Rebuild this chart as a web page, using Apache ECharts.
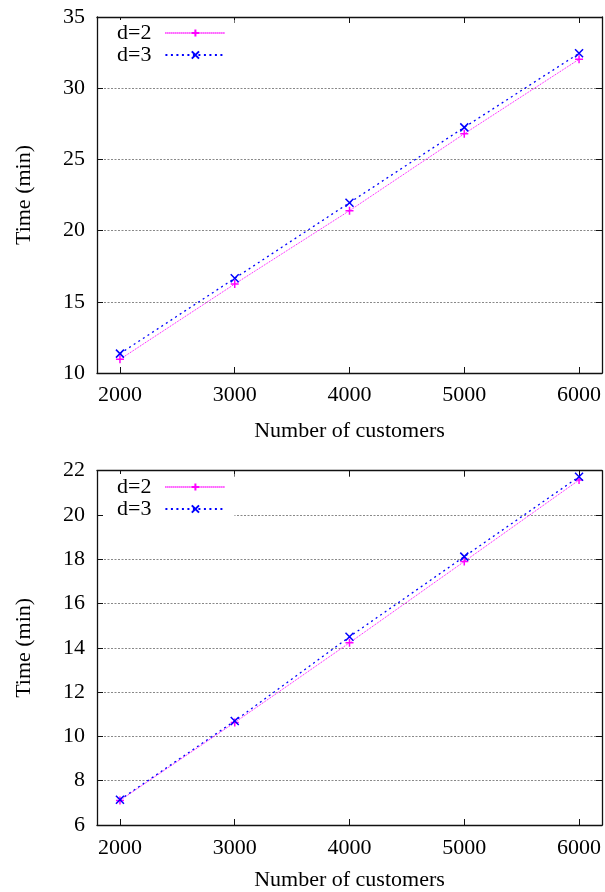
<!DOCTYPE html>
<html>
<head>
<meta charset="utf-8">
<script src="https://cdn.jsdelivr.net/npm/echarts@6/dist/echarts.min.js"></script>
<style>html,body{margin:0;padding:0;background:#fff;}#c{width:605px;height:892px;}</style>
</head>
<body>
<div id="c"></div>
<script>
// ---- data ----
const customers = [2000, 3000, 4000, 5000, 6000];
const xTicks = [2000, 3000, 4000, 5000, 6000];
const topD2 = [10.96, 16.25, 21.40, 26.80, 32.03];
const topD3 = [11.36, 16.65, 21.96, 27.25, 32.45];
const botD2 = [7.11, 10.63, 14.23, 17.90, 21.58];
const botD3 = [7.14, 10.70, 14.50, 18.12, 21.73];
const seriesNames = ['d=2', 'd=3'];
const xTitle = 'Number of customers';
const yTitle = 'Time (min)';

// ---- styling ----
const FONT = 'Liberation Serif';
const FS = 22;
const AXIS_COLOR = '#111';
const plusPath = 'path://M0,4L8,4M4,0L4,8';
const crossPath = 'path://M0,0L8,8M8,0L0,8';

function pairs(xs, ys) { return xs.map((x, i) => [x, ys[i]]); }

function xAxes(gridIndex, labelMargin, nameGap) {
  return [
    {
      type: 'value', gridIndex, position: 'bottom', min: 1800, max: 6200,
      axisLine: { show: true, onZero: false, lineStyle: { color: AXIS_COLOR, width: 1.3 } },
      axisTick: { show: true, inside: true, length: 6, customValues: xTicks, lineStyle: { color: AXIS_COLOR } },
      axisLabel: { show: true, customValues: xTicks, margin: labelMargin, fontFamily: FONT, fontSize: FS, color: '#000',
                   formatter: v => String(v) },
      splitLine: { show: false },
      name: xTitle, nameLocation: 'middle', nameGap: nameGap,
      nameTextStyle: { fontFamily: FONT, fontSize: FS, color: '#000' }
    },
    {
      type: 'value', gridIndex, position: 'top', min: 1800, max: 6200,
      axisLine: { show: true, onZero: false, lineStyle: { color: AXIS_COLOR, width: 1.3 } },
      axisTick: { show: true, inside: true, length: 6, customValues: xTicks, lineStyle: { color: AXIS_COLOR } },
      axisLabel: { show: false },
      splitLine: { show: false }
    }
  ];
}

function yAxes(gridIndex, min, max, interval, nameGap) {
  return [
    {
      type: 'value', gridIndex, position: 'left', min, max, interval,
      axisLine: { show: true, onZero: false, lineStyle: { color: AXIS_COLOR, width: 1.3 } },
      axisTick: { show: true, inside: true, length: 6, lineStyle: { color: AXIS_COLOR } },
      axisLabel: { show: true, margin: 12, fontFamily: FONT, fontSize: FS, color: '#000' },
      splitLine: { show: true, lineStyle: { color: '#888', width: 1, type: [2, 1.5] } },
      name: yTitle, nameLocation: 'middle', nameGap: nameGap, nameRotate: 90,
      nameTextStyle: { fontFamily: FONT, fontSize: FS, color: '#000' }
    },
    {
      type: 'value', gridIndex, position: 'right', min, max, interval,
      axisLine: { show: true, onZero: false, lineStyle: { color: AXIS_COLOR, width: 1.3 } },
      axisTick: { show: true, inside: true, length: 6, lineStyle: { color: AXIS_COLOR } },
      axisLabel: { show: false },
      splitLine: { show: false }
    }
  ];
}

function mkSeries(name, data, xi, yi, color, dash, width, symbol) {
  return {
    type: 'line', name, xAxisIndex: xi, yAxisIndex: yi,
    data, symbol, symbolSize: 8, showSymbol: true,
    lineStyle: { color, width, type: dash },
    itemStyle: { color, borderColor: color, borderWidth: 1.5 },
    emphasis: { disabled: true },
    animation: false, z: 3
  };
}

function mkLegend(top) {
  return {
    show: true, orient: 'vertical', left: 103, top,
    align: 'right', data: seriesNames,
    itemWidth: 60, itemHeight: 9, itemGap: 0,
    backgroundColor: '#fff', padding: [2, 8, 2, 14],
    textStyle: { fontFamily: FONT, fontSize: FS, color: '#000', lineHeight: 22, padding: [0, 9, 0, 0] },
    selectedMode: false
  };
}

const chart = echarts.init(document.getElementById('c'), null, { renderer: 'canvas' });
chart.setOption({
  animation: false,
  backgroundColor: '#fff',
  grid: [
    { left: 97, right: 3, top: 17, height: 356 },
    { left: 97, right: 3, top: 470.7, height: 354.7 }
  ],
  legend: [mkLegend(20), mkLegend(474)],
  xAxis: [...xAxes(0, 11, 47), ...xAxes(1, 12, 44)],
  yAxis: [...yAxes(0, 10, 35, 5, 62), ...yAxes(1, 6, 22, 2, 62)],
  series: [
    mkSeries(seriesNames[0], pairs(customers, topD2), 0, 0, '#ff00ff', [1, 1], 1, plusPath),
    mkSeries(seriesNames[1], pairs(customers, topD3), 0, 0, '#0000ff', [2, 3.5], 1.3, crossPath),
    mkSeries(seriesNames[0], pairs(customers, botD2), 2, 2, '#ff00ff', [1, 1], 1, plusPath),
    mkSeries(seriesNames[1], pairs(customers, botD3), 2, 2, '#0000ff', [2, 3.5], 1.3, crossPath)
  ]
});
</script>
</body>
</html>
